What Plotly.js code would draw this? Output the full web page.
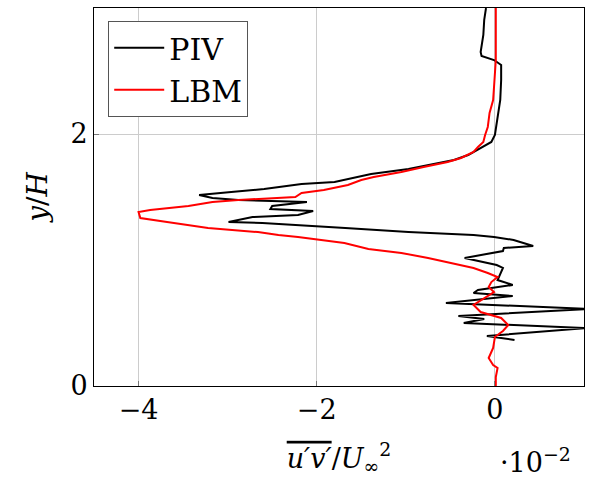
<!DOCTYPE html>
<html>
<head>
<meta charset="utf-8">
<script src="https://cdn.plot.ly/plotly-3.0.1.min.js"></script>
<style>html,body{margin:0;padding:0;background:#fff;}#plot{width:595px;height:480px;}</style>
</head>
<body>
<div id="plot"></div>
<script>
// PIV profile (x in units of 1e-2, y = y/H)
const pivX = [-0.10,-0.12,-0.13,-0.16,-0.15,-0.01,0.07,0.07,0.06,0.03,0.00,-0.04,-0.16,-0.30,-0.46,-0.68,-0.97,-1.39,-1.58,-1.80,-2.17,-2.59,-2.96,-3.32,-3.17,-2.88,-2.11,-2.50,-2.52,-2.04,-2.21,-2.72,-2.99,-2.61,-1.68,-0.97,-0.24,-0.01,0.21,0.43,0.10,0.09,-0.34,0.02,0.09,0.03,0.20,-0.19,-0.24,0.20,-0.55,1.04,-0.41,-0.12,-0.35,1.04,-0.09,0.22];
const pivY = [3.00,2.905,2.786,2.651,2.619,2.587,2.548,2.429,2.270,2.111,1.992,1.937,1.889,1.833,1.794,1.762,1.722,1.683,1.651,1.619,1.603,1.563,1.540,1.516,1.492,1.476,1.460,1.429,1.405,1.389,1.357,1.341,1.302,1.294,1.254,1.222,1.198,1.183,1.159,1.111,1.095,1.071,1.016,0.960,0.937,0.841,0.802,0.762,0.738,0.714,0.659,0.611,0.556,0.532,0.500,0.460,0.397,0.365];
// LBM profile
const lbmX = [0.01,0.01,-0.01,-0.02,-0.06,-0.08,-0.11,-0.13,-0.19,-0.24,-0.38,-0.53,-0.80,-1.05,-1.36,-1.50,-1.65,-1.92,-2.17,-2.24,-2.88,-3.17,-3.44,-3.66,-3.87,-4.00,-3.98,-3.68,-3.44,-3.22,-2.95,-2.66,-2.43,-2.21,-1.95,-1.69,-1.42,-1.05,-0.75,-0.49,-0.24,-0.08,0.03,-0.04,-0.07,-0.01,-0.16,-0.24,-0.16,0.07,0.15,0.09,0.00,-0.02,-0.07,-0.02,0.03,0.01,0.01];
const lbmY = [3.00,2.587,2.373,2.270,2.167,2.056,1.992,1.937,1.897,1.857,1.810,1.778,1.738,1.698,1.659,1.635,1.595,1.556,1.532,1.500,1.476,1.460,1.429,1.413,1.397,1.381,1.333,1.302,1.278,1.254,1.238,1.222,1.198,1.183,1.159,1.135,1.087,1.056,1.016,0.976,0.937,0.897,0.865,0.825,0.786,0.746,0.683,0.643,0.587,0.540,0.484,0.437,0.389,0.302,0.222,0.167,0.143,0.071,0.00];
const xTicks = [-4,-2,0];
const yTicks = [0,2];

const font = "DejaVu Serif";
const traces = [
  {x: pivX, y: pivY, mode: 'lines', name: 'PIV', line: {color: '#000000', width: 2}},
  {x: lbmX, y: lbmY, mode: 'lines', name: 'LBM', line: {color: '#ff0000', width: 2}}
];
const layout = {
  width: 595, height: 480,
  margin: {l: 94, r: 11, t: 8, b: 94},
  paper_bgcolor: '#fff', plot_bgcolor: '#fff',
  font: {family: font, size: 27, color: '#000'},
  showlegend: true,
  legend: {x: 0.029, y: 0.966, xanchor: 'left', yanchor: 'top', bgcolor: '#fff',
           bordercolor: '#555', borderwidth: 1, font: {family: font, size: 30, color: '#000'},
           itemwidth: 50, tracegroupgap: 0},
  xaxis: {range: [-4.5, 1], tickvals: xTicks, showgrid: true, gridcolor: '#cccccc', gridwidth: 1,
          tickfont: {family: font, size: 27, color: '#000'},
          zeroline: false, showline: true, linecolor: '#000', linewidth: 1, mirror: true,
          ticks: 'inside', ticklen: 5, tickcolor: '#777',
          title: {text: '<span style="text-decoration:overline"><i>u′v′</i></span>/<i>U</i><sub>∞</sub><sup>2</sup>', standoff: 24, font: {family: font, size: 27}}},
  yaxis: {range: [0, 3], tickvals: yTicks, showgrid: true, gridcolor: '#cccccc', gridwidth: 1,
          tickfont: {family: font, size: 27, color: '#000'},
          zeroline: false, showline: true, linecolor: '#000', linewidth: 1, mirror: true,
          ticks: 'inside', ticklen: 5, tickcolor: '#777',
          title: {text: '<i>y</i>/<i>H</i>', standoff: 14, font: {family: font, size: 28}}},
  annotations: [{xref: 'paper', yref: 'paper', x: 0.9, y: -0.196, xanchor: 'center', yanchor: 'middle',
                 text: '·10<sup>−2</sup>', showarrow: false, font: {family: font, size: 27}}]
};
Plotly.newPlot('plot', traces, layout, {displayModeBar: false, staticPlot: true});
</script>
</body>
</html>
